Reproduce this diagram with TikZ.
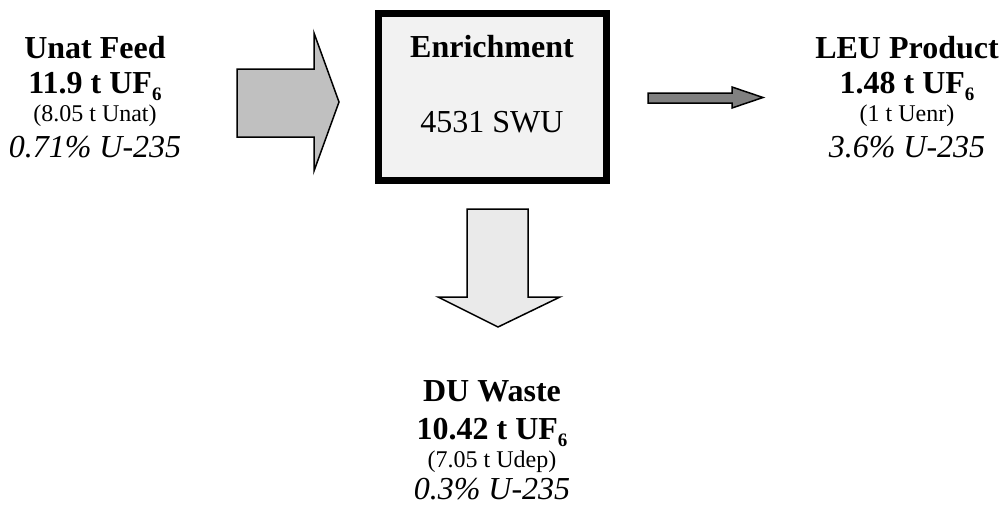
\documentclass[tikz,border=0pt]{standalone}
\usepackage{fontspec}
\setmainfont{Liberation Serif}
\definecolor{feedgray}{HTML}{C0C0C0}
\definecolor{prodgray}{HTML}{808080}
\definecolor{wastegray}{HTML}{EAEAEA}
\definecolor{boxgray}{HTML}{F2F2F2}
\newcommand\mysubsix{\raisebox{-0.22em}{\fontsize{19}{19}\selectfont 6}}
\begin{document}
\begin{tikzpicture}[x=1pt,y=-1pt,
  txt/.style={inner sep=0pt, anchor=base},
  bigb/.style={txt, font=\fontsize{32}{38}\selectfont\bfseries},
  big/.style={txt, font=\fontsize{32}{38}\selectfont},
  bigi/.style={txt, font=\fontsize{32}{38}\selectfont\itshape},
  small/.style={txt, font=\fontsize{24}{28}\selectfont},
  blockarrow/.style={draw=black, line width=1.5pt, line join=miter}]
\path[use as bounding box] (0,0) rectangle (1004,506);

% enrichment box
\node[draw=black, line width=7pt, fill=boxgray, inner sep=0pt,
      minimum width=228pt, minimum height=167pt] (enr) at (492.5,97) {};
\node[bigb] (enrT) at (492,57) {Enrichment};
\node[big]  (enrS) at (492,132) {4531 SWU};

% feed text
\node[bigb]  (f1) at (95,58) {Unat Feed};
\node[bigb]  (f2) at (95,93) {11.9 t UF\mysubsix};
\node[small] (f3) at (95,121) {(8.05 t Unat)};
\node[bigi]  (f4) at (95,157) {0.71\% U-235};

% product text
\node[bigb]  (p1) at (907,58) {LEU Product};
\node[bigb]  (p2) at (907,93) {1.48 t UF\mysubsix};
\node[small] (p3) at (907,121) {(1 t Uenr)};
\node[bigi]  (p4) at (907,157) {3.6\% U-235};

% waste text
\node[bigb]  (w1) at (492,401) {DU Waste};
\node[bigb]  (w2) at (492,439) {10.42 t UF\mysubsix};
\node[small] (w3) at (492,467) {(7.05 t Udep)};
\node[bigi, text depth=0pt] (w4) at (492,499) {0.3\% U-235};

% block arrows
\draw[blockarrow, fill=feedgray] (237,69) -- (314,69) -- (314,33) -- (339,102)
  -- (314,171) -- (314,137) -- (237,137) -- cycle;
\draw[blockarrow, fill=prodgray] (648,93) -- (732,93) -- (732,87) -- (763,97.5)
  -- (732,108) -- (732,103) -- (648,103) -- cycle;
\draw[blockarrow, fill=wastegray] (467,209) -- (528,209) -- (528,297) -- (560,297)
  -- (498,327) -- (438,297) -- (467,297) -- cycle;
\end{tikzpicture}
\end{document}
